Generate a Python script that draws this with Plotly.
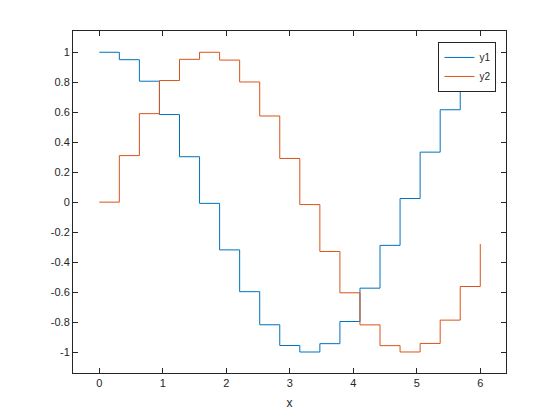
import plotly.graph_objects as go

x = [0.0, 0.3158, 0.6316, 0.9474, 1.2632, 1.5789, 1.8947, 2.2105, 2.5263, 2.8421,
     3.1579, 3.4737, 3.7895, 4.1053, 4.4211, 4.7368, 5.0526, 5.3684, 5.6842, 6.0]
y1 = [1.0, 0.9505, 0.8070, 0.5845, 0.3031, -0.0081, -0.3185, -0.5974, -0.8182, -0.9566,
      -0.9999, -0.9443, -0.7963, -0.5739, -0.2884, 0.0244, 0.3336, 0.6165, 0.8264, 0.9602]
y2 = [0.0, 0.3106, 0.5905, 0.8114, 0.9530, 1.0000, 0.9479, 0.8019, 0.5749, 0.2915,
      -0.0163, -0.3290, -0.6049, -0.8189, -0.9575, -0.9997, -0.9427, -0.7873, -0.5630, -0.2794]
series_names = ["y1", "y2"]
x_ticks = [0, 1, 2, 3, 4, 5, 6]
y_ticks = [-1, -0.8, -0.6, -0.4, -0.2, 0, 0.2, 0.4, 0.6, 0.8, 1]
y_ticklabels = ["-1", "-0.8", "-0.6", "-0.4", "-0.2", "0", "0.2", "0.4", "0.6", "0.8", "1"]

FONT = "Liberation Sans, Arial, sans-serif"

fig = go.Figure()
fig.add_trace(go.Scatter(x=x, y=y1, name=series_names[0], mode="lines",
                         line=dict(shape="hv", color="#0072BD", width=1)))
fig.add_trace(go.Scatter(x=x, y=y2, name=series_names[1], mode="lines",
                         line=dict(shape="hv", color="#D95319", width=1)))

axis_common = dict(
    showgrid=False, zeroline=False, showline=True, linecolor="#262626", linewidth=1,
    mirror="ticks", ticks="inside", ticklen=5, tickcolor="#262626", tickwidth=1,
    tickfont=dict(family=FONT, size=11, color="#262626"), automargin=False,
)
fig.update_xaxes(range=[-0.414, 6.405], tickvals=x_ticks, **axis_common,
                 title=dict(text="x", font=dict(family=FONT, size=12, color="#262626"), standoff=10))
fig.update_yaxes(range=[-1.14, 1.142], tickvals=y_ticks, ticktext=y_ticklabels, **axis_common)

fig.update_layout(
    width=560, height=420,
    margin=dict(l=73, r=54, t=31, b=47),
    paper_bgcolor="white", plot_bgcolor="white",
    legend=dict(x=0.978, y=0.968, xanchor="right", yanchor="top",
                bgcolor="white", bordercolor="#262626", borderwidth=1,
                font=dict(family=FONT, size=10, color="#262626"),
                tracegroupgap=0, itemwidth=30),
    showlegend=True,
)

fig.write_html("out.html", config={"displayModeBar": False},
               post_script="document.body.style.margin='0';document.body.style.padding='0';")
